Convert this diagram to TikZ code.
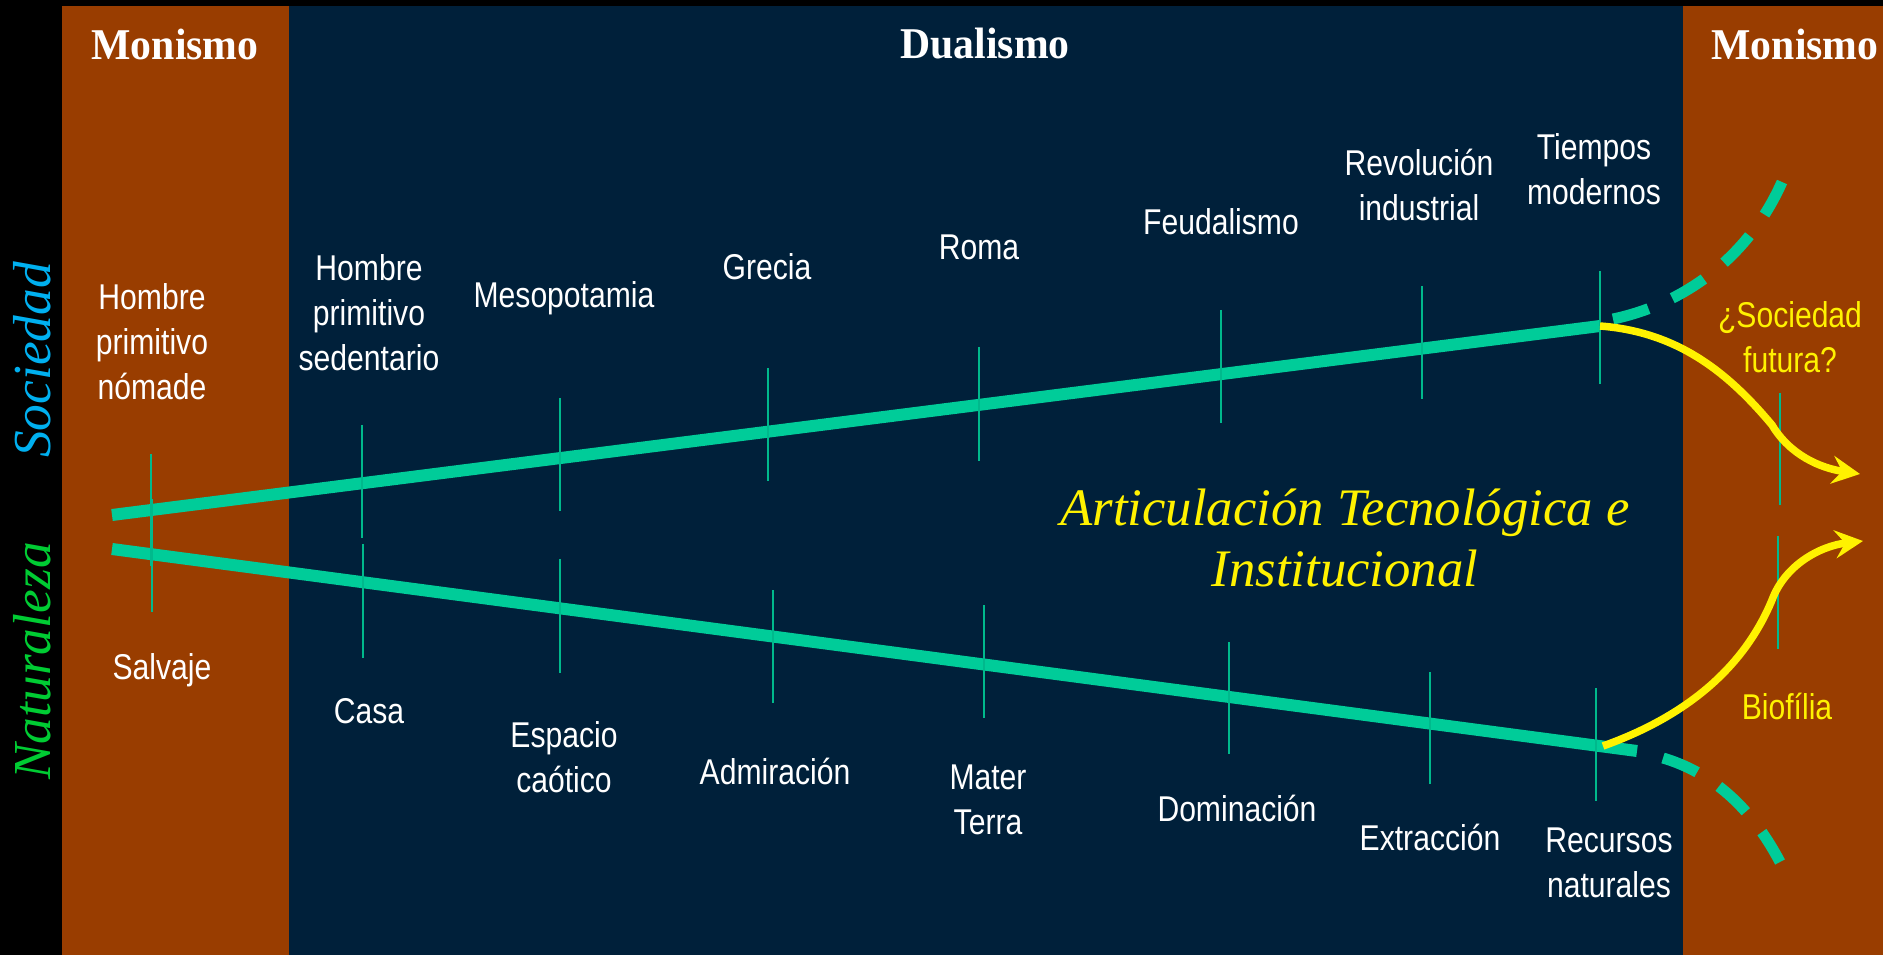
\documentclass[tikz,border=0pt]{standalone}
\usepackage{fontspec}
\setmainfont{Liberation Serif}
\newfontfamily\erafont{Liberation Sans}[FakeStretch=0.84]
\newfontfamily\titlefont{Liberation Serif}[FakeStretch=0.95]
\usetikzlibrary{arrows.meta}

\definecolor{monorange}{RGB}{153,61,0}
\definecolor{dualnavy}{RGB}{0,32,58}
\definecolor{linegreen}{RGB}{0,204,153}
\definecolor{notchgreen}{RGB}{0,185,140}
\definecolor{socblue}{RGB}{0,176,240}
\definecolor{natgreen}{RGB}{0,204,51}

\begin{document}
\begin{tikzpicture}[x=0.1mm, y=-0.1mm,
    era/.style={text=white, font=\erafont\fontsize{10.2}{12.8}\selectfont, align=center, inner sep=0pt},
    fut/.style={era, text=yellow},
    period/.style={text=white, font=\titlefont\bfseries\fontsize{12.5}{14}\selectfont, inner sep=0pt},
    side/.style={font=\itshape\fontsize{15.2}{17}\selectfont, rotate=90, inner sep=0pt},
    trend/.style={draw=linegreen, line width=1.2mm},
    notch/.style={draw=notchgreen, line width=0.2mm},
    drift/.style={draw=linegreen, line width=1.1mm, dash pattern=on 3.7mm off 2.6mm},
    swerve/.style={draw=yellow, line width=0.75mm, -{Stealth[length=2.8mm, width=2.8mm, inset=1mm]}}]

	% fondo: monismo - dualismo - monismo
	\fill[black] (0,0) rectangle (1883,955);
	\fill[monorange] (62,6) rectangle (289,955);
	\fill[dualnavy] (289,6) rectangle (1683,955);
	\fill[monorange] (1683,6) rectangle (1883,955);

	\node[period] (mono1) at (175,44) {Monismo};
	\node[period] (dual) at (985,44) {Dualismo};
	\node[period] (mono2) at (1795,44) {Monismo};

	\node[side, text=socblue] (soc) at (32,360) {Sociedad};
	\node[side, text=natgreen] (nat) at (32,661) {Naturaleza};

	% las dos lineas
	\coordinate (s0) at (112,515);
	\coordinate (s8) at (1600,326);
	\coordinate (n0) at (112,549);
	\coordinate (n8) at (1637,751);
	\coordinate (nsplit) at (1603,746);

	\draw[trend] (s0) -- (s8);
	\draw[trend] (n0) -- (n8);

	% marcas sociedad
	\draw[notch] (151,454) -- (151,566);
	\draw[notch] (362,425) -- (362,538);
	\draw[notch] (560,398) -- (560,511);
	\draw[notch] (768,368) -- (768,481);
	\draw[notch] (979,347) -- (979,461);
	\draw[notch] (1221,310) -- (1221,423);
	\draw[notch] (1422,286) -- (1422,399);
	\draw[notch] (1600,271) -- (1600,384);
	\draw[notch] (1780,393) -- (1780,505);
	% marcas naturaleza
	\draw[notch] (152,499) -- (152,612);
	\draw[notch] (363,544) -- (363,658);
	\draw[notch] (560,559) -- (560,673);
	\draw[notch] (773,590) -- (773,703);
	\draw[notch] (984,605) -- (984,718);
	\draw[notch] (1229,642) -- (1229,754);
	\draw[notch] (1430,672) -- (1430,784);
	\draw[notch] (1596,688) -- (1596,801);
	\draw[notch] (1778,536) -- (1778,649);

	% futuro
	\draw[drift] (1613,319) .. controls (1680,305) and (1750,260) .. (1785,175);
	\draw[drift] (1663,758) .. controls (1710,772) and (1750,805) .. (1780,862);

	\coordinate (sfut) at (1860,474);
	\coordinate (nfut) at (1863,541);
	\draw[swerve] (s8) .. controls (1680,332) and (1730,375) .. (1772,425)
		.. controls (1790,455) and (1820,468) .. (sfut);
	\draw[swerve] (nsplit) .. controls (1690,715) and (1745,665) .. (1772,600)
		.. controls (1785,565) and (1820,546) .. (nfut);

	\node[era] (nomade) at (152,342) {Hombre\\primitivo\\nómade};
	\node[era] (sedentario) at (369,313) {Hombre\\primitivo\\sedentario};
	\node[era] (meso) at (564,298) {Mesopotamia};
	\node[era] (grecia) at (767,267) {Grecia};
	\node[era] (roma) at (979,247) {Roma};
	\node[era] (feudal) at (1221,222) {Feudalismo};
	\node[era] (revol) at (1419,185) {Revolución\\industrial};
	\node[era] (modern) at (1594,169) {Tiempos\\modernos};

	\node[era] (salvaje) at (162,670) {Salvaje};
	\node[era] (casa) at (369,711) {Casa};
	\node[era] (caos) at (564,757) {Espacio\\caótico};
	\node[era] (admir) at (775,771) {Admiración};
	\node[era] (mater) at (988,800) {Mater\\Terra};
	\node[era] (domin) at (1237,808) {Dominación};
	\node[era] (extrac) at (1430,837) {Extracción};
	\node[era] (recurs) at (1609,863) {Recursos\\naturales};

	\node[fut] (socfut) at (1790,337) {¿Sociedad\\futura?};
	\node[fut] (biof) at (1787,706) {Biofília};

	\node[text=yellow, align=center, inner sep=0pt, font=\itshape\fontsize{15}{17.3}\selectfont] (artic) at (1345,538) {Articulación Tecnológica e\\Institucional};
\end{tikzpicture}
\end{document}
